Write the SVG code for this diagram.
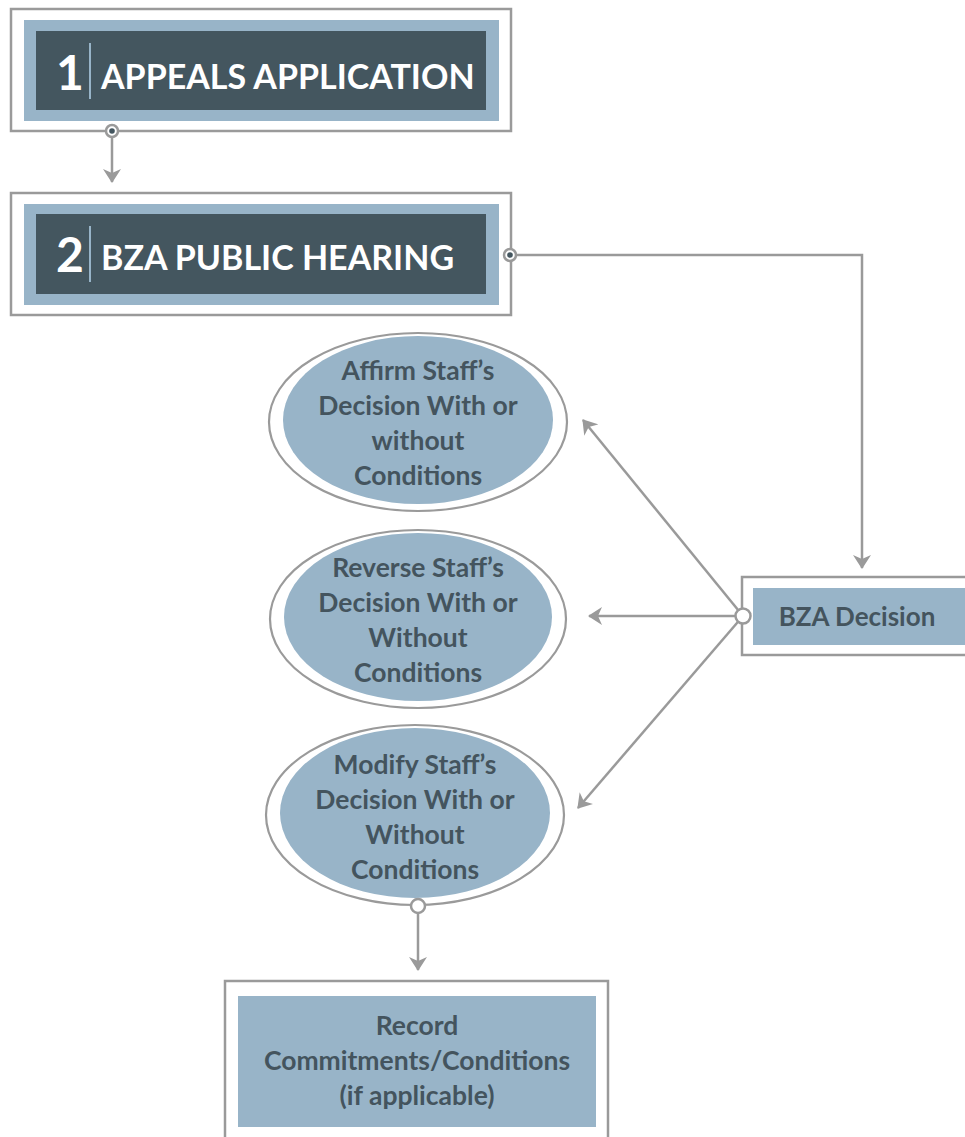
<svg xmlns="http://www.w3.org/2000/svg" width="965" height="1137" viewBox="0 0 965 1137">
  <style>
    .frame { fill: #ffffff; stroke: #9a9a9a; stroke-width: 2.5; }
    .band { fill: #98b4c8; }
    .dark { fill: #44565f; }
    .rule { stroke: #98b4c8; stroke-width: 2; }
    .num { font-family: "Lato", "Liberation Sans", sans-serif; font-weight: 700; font-size: 48px; fill: #ffffff; }
    .head { font-family: "Lato", "Liberation Sans", sans-serif; font-weight: 700; font-size: 34px; fill: #ffffff; }
    .lbl { font-family: "Lato", "Liberation Sans", sans-serif; font-weight: 700; font-size: 26.5px; fill: #44545e; text-anchor: middle; }
    .ring { fill: #ffffff; stroke: #9a9a9a; stroke-width: 2.2; }
    .wire { fill: none; stroke: #9a9a9a; stroke-width: 2.5; }
    .port { fill: #ffffff; stroke: #9a9a9a; stroke-width: 2.5; }
    .pip { fill: #44565f; }
  </style>
  <defs>
    <marker id="arrow" viewBox="0 0 14 18" refX="13" refY="9" markerWidth="14" markerHeight="18" markerUnits="userSpaceOnUse" orient="auto">
      <path d="M0,0 L14,9 L0,18 L4,9 Z" fill="#9a9a9a"/>
    </marker>
  </defs>

  <!-- connectors -->
  <g id="connectors">
    <path class="wire" d="M112,131 V182" marker-end="url(#arrow)"/>
    <path class="wire" d="M510,255 H862 V568" marker-end="url(#arrow)"/>
    <path class="wire" d="M743,616 L583,420" marker-end="url(#arrow)"/>
    <path class="wire" d="M743,616 H589" marker-end="url(#arrow)"/>
    <path class="wire" d="M743,616 L578,808" marker-end="url(#arrow)"/>
    <path class="wire" d="M418,906 V970" marker-end="url(#arrow)"/>
  </g>

  <!-- step 1 -->
  <g id="step1">
    <rect class="frame" x="11" y="9" width="500" height="122"/>
    <rect class="band" x="24" y="20" width="475" height="101"/>
    <rect class="dark" x="36" y="31" width="450" height="79"/>
    <text class="num" x="56" y="90">1</text>
    <line class="rule" x1="90" y1="43" x2="90" y2="99"/>
    <text class="head" x="101" y="89">APPEALS APPLICATION</text>
  </g>

  <!-- step 2 -->
  <g id="step2">
    <rect class="frame" x="11" y="193" width="500" height="122"/>
    <rect class="band" x="24" y="204" width="475" height="101"/>
    <rect class="dark" x="36" y="214" width="450" height="80"/>
    <text class="num" x="56" y="272">2</text>
    <line class="rule" x1="90" y1="226" x2="90" y2="282"/>
    <text class="head" x="101" y="270">BZA PUBLIC HEARING</text>
  </g>

  <!-- decision box -->
  <g id="bza-decision">
    <rect class="frame" x="742" y="577" width="240" height="78"/>
    <rect class="band" x="753" y="588" width="220" height="57"/>
    <text class="lbl" x="857" y="626" style="font-size:26px">BZA Decision</text>
  </g>

  <!-- outcomes -->
  <g id="affirm">
    <ellipse class="ring" cx="418" cy="422" rx="149" ry="89"/>
    <ellipse class="band" cx="418" cy="420" rx="135" ry="84"/>
    <text class="lbl" x="418" y="380">Affirm Staff’s</text>
    <text class="lbl" x="418" y="415">Decision With or</text>
    <text class="lbl" x="418" y="450">without</text>
    <text class="lbl" x="418" y="485">Conditions</text>
  </g>

  <g id="reverse">
    <ellipse class="ring" cx="418" cy="619" rx="148" ry="89"/>
    <ellipse class="band" cx="418" cy="617" rx="134" ry="84"/>
    <text class="lbl" x="418" y="577">Reverse Staff’s</text>
    <text class="lbl" x="418" y="612">Decision With or</text>
    <text class="lbl" x="418" y="647">Without</text>
    <text class="lbl" x="418" y="682">Conditions</text>
  </g>

  <g id="modify">
    <ellipse class="ring" cx="415" cy="815" rx="149" ry="90"/>
    <ellipse class="band" cx="415" cy="813" rx="135" ry="85"/>
    <text class="lbl" x="415" y="774">Modify Staff’s</text>
    <text class="lbl" x="415" y="809">Decision With or</text>
    <text class="lbl" x="415" y="844">Without</text>
    <text class="lbl" x="415" y="879">Conditions</text>
  </g>

  <!-- record -->
  <g id="record">
    <rect class="frame" x="225" y="981" width="383" height="170"/>
    <rect class="band" x="238" y="996" width="358" height="131"/>
    <text class="lbl" x="417" y="1035">Record</text>
    <text class="lbl" x="417" y="1070">Commitments/Conditions</text>
    <text class="lbl" x="417" y="1105">(if applicable)</text>
  </g>

  <!-- ports -->
  <g id="ports">
    <circle class="port" cx="112" cy="131" r="6"/>
    <circle class="pip" cx="112" cy="131" r="2.8"/>
    <circle class="port" cx="510" cy="255" r="6"/>
    <circle class="pip" cx="510" cy="255" r="2.8"/>
    <circle class="port" cx="743" cy="616" r="7.5"/>
    <circle class="port" cx="418" cy="906" r="7"/>
  </g>
</svg>
